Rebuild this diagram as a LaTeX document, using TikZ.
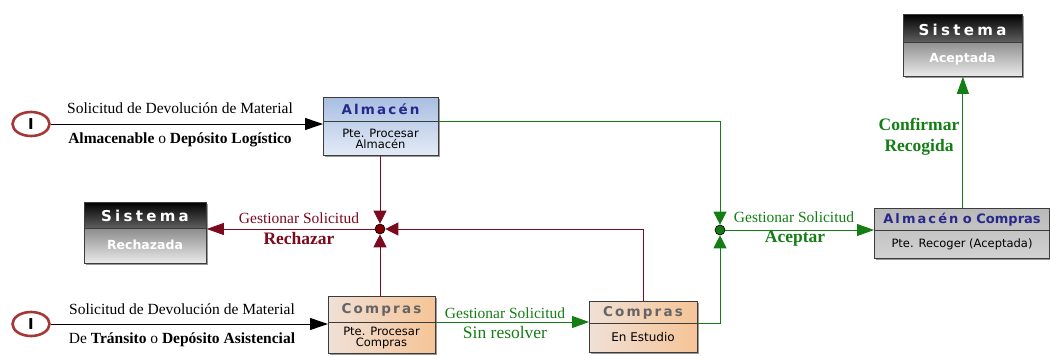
\documentclass[tikz,border=0pt]{standalone}
\usepackage{fontspec}
\setmainfont{Liberation Serif}
\newfontfamily\boxfont{DejaVu Sans}
\newfontfamily\hdrfont[LetterSpace=16]{DejaVu Sans}
\newfontfamily\sysfont[LetterSpace=22]{DejaVu Sans}
\usetikzlibrary{arrows.meta,shadows,shapes.geometric}
\definecolor{rline}{RGB}{122,10,30}
\definecolor{gline}{RGB}{20,125,20}
\definecolor{circ}{RGB}{165,55,55}
\definecolor{hblue}{RGB}{40,40,140}
\definecolor{hgray}{RGB}{100,100,100}
\definecolor{bord}{RGB}{60,60,60}
\tikzset{
  box/.style={draw=bord, line width=0.8pt, inner sep=0pt, anchor=north west,
    drop shadow={shadow xshift=2pt, shadow yshift=-2pt, fill=black!40, opacity=1}},
  bluebox/.style={box, top color={rgb,255:red,168;green,190;blue,225}, bottom color={rgb,255:red,228;green,235;blue,246}},
  orbox/.style={box, left color={rgb,255:red,240;green,224;blue,214}, right color={rgb,255:red,246;green,196;blue,150}},
  graybox/.style={box, top color={rgb,255:red,185;green,185;blue,185}, bottom color={rgb,255:red,210;green,210;blue,210}},
  sysbox/.style={box, top color={rgb,255:red,70;green,70;blue,70}, bottom color={rgb,255:red,235;green,235;blue,235}},
  hdr/.style={font=\hdrfont\bfseries\fontsize{13.5}{15}\selectfont, inner sep=0pt},
  syshdr/.style={font=\sysfont\bfseries\fontsize{15}{17}\selectfont, text=white, inner sep=0pt},
  sysbody/.style={font=\boxfont\bfseries\fontsize{12.5}{14}\selectfont, text=white, inner sep=0pt},
  body/.style={font=\boxfont\fontsize{11.5}{11.5}\selectfont, align=center, inner sep=0pt},
  lbl/.style={font=\fontsize{15.5}{17}\selectfont, inner sep=0pt},
  biglbl/.style={font=\fontsize{17.5}{19}\selectfont, inner sep=0pt},
  startc/.style={ellipse, draw=circ, line width=2.6pt, minimum width=37pt, minimum height=24pt, inner sep=0pt,
    font=\boxfont\bfseries\fontsize{15}{15}\selectfont},
  blk/.style={draw=black, line width=1pt, -{Triangle[length=18pt,width=12pt]}},
  rarr/.style={draw=rline, line width=0.9pt, -{Triangle[length=13pt,width=13pt]}},
  garr/.style={draw=gline, line width=0.9pt, -{Triangle[length=13pt,width=13pt]}},
}
\begin{document}
\begin{tikzpicture}[x=1pt,y=-1pt]
\useasboundingbox (0,0) rectangle (1050,356);

% start circles
\node[startc] (c1) at (31,124) {I};
\node[startc] (c2) at (31,324) {I};

% boxes
\node[bluebox, minimum width=115pt, minimum height=58pt] (alm) at (323,97) {};
\coordinate (alm-d) at (323,121);
\draw[draw=bord, line width=0.8pt] (alm-d) -- (alm-d -| alm.east);
\node[hdr, text=hblue] (alm-t) at (380.5,109.5) {Almacén};
\node[body] (alm-s) at (380.5,139) {Pte. Procesar\\Almacén};

\node[sysbox, minimum width=122pt, minimum height=61pt] (rech) at (84,202) {};
\coordinate (rech-d) at (84,228);
\shade[top color=black, bottom color={rgb,255:red,95;green,95;blue,95}] (rech.north west) rectangle (rech-d -| rech.east);
\draw[draw=bord, line width=0.8pt] (rech.north west) rectangle (rech.south east) (rech-d) -- (rech-d -| rech.east);
\node[syshdr] (rech-t) at (145,215.5) {Sistema};
\node[sysbody] (rech-s) at (145,245) {Rechazada};

\node[orbox, minimum width=107pt, minimum height=57pt] (comp) at (328,296) {};
\coordinate (comp-d) at (328,322);
\draw[draw=bord, line width=0.8pt] (comp-d) -- (comp-d -| comp.east);
\node[hdr, text=hgray] (comp-t) at (381.5,309.5) {Compras};
\node[body] (comp-s) at (381.5,338) {Pte. Procesar\\Compras};

\node[orbox, minimum width=108pt, minimum height=51pt] (est) at (589,301) {};
\coordinate (est-d) at (589,323);
\draw[draw=bord, line width=0.8pt] (est-d) -- (est-d -| est.east);
\node[hdr, text=hgray] (est-t) at (643,312.5) {Compras};
\node[body, font=\boxfont\fontsize{12}{12}\selectfont] (est-s) at (643,337.5) {En Estudio};

\node[graybox, minimum width=175pt, minimum height=50pt] (aoc) at (874,208) {};
\coordinate (aoc-d) at (874,230);
\draw[draw=bord, line width=0.8pt] (aoc-d) -- (aoc-d -| aoc.east);
\node[hdr, text=hblue, font=\boxfont\bfseries\fontsize{13}{15}\selectfont] (aoc-t) at (962,219.5) {{\hdrfont Almacén} o Compras};
\node[body] (aoc-s) at (962,244) {Pte. Recoger (Aceptada)};

\node[sysbox, minimum width=119pt, minimum height=62pt] (acep) at (903,14) {};
\coordinate (acep-d) at (903,42);
\shade[top color=black, bottom color={rgb,255:red,95;green,95;blue,95}] (acep.north west) rectangle (acep-d -| acep.east);
\draw[draw=bord, line width=0.8pt] (acep.north west) rectangle (acep.south east) (acep-d) -- (acep-d -| acep.east);
\node[syshdr] (acep-t) at (962.5,29.5) {Sistema};
\node[sysbody] (acep-s) at (962.5,59) {Aceptada};

% junctions
\node[circle, fill={rgb,255:red,128;green,0;blue,0}, draw=black, line width=0.6pt, minimum size=10pt, inner sep=0pt] (rdot) at (380,229) {};
\node[circle, fill={rgb,255:red,20;green,120;blue,20}, draw=black, line width=0.6pt, minimum size=10pt, inner sep=0pt] (gdot) at (720,230) {};

% black inputs
\draw[blk] (c1.east) -- (c1.east -| alm.west);
\draw[blk] (c2.east) -- (c2.east -| comp.west);
\node[lbl] (l1a) at (180,108) {Solicitud de Devolución de Material};
\node[lbl] (l1b) at (180,140) {\textbf{Almacenable} o \textbf{Depósito Logístico}};
\node[lbl] (l2a) at (182,309) {Solicitud de Devolución de Material};
\node[lbl] (l2b) at (182,340) {De \textbf{Tránsito} o \textbf{Depósito Asistencial}};

% red connectors
\draw[rarr] (alm.south -| rdot) -- (rdot.north);
\draw[rarr] (comp.north -| rdot) -- (rdot.south);
\draw[rarr] (est.north) |- (rdot.east);
\draw[draw=rline, line width=0.9pt, -{Triangle[length=17pt,width=12pt]}] (rdot.west) -- (rdot.west -| rech.east);
\node[lbl, text=rline] (lr1) at (299,218) {Gestionar Solicitud};
\node[biglbl, text=rline, font=\bfseries\fontsize{17.5}{19}\selectfont] (lr2) at (299,239) {Rechazar};

% green connectors
\draw[draw=gline, line width=0.9pt, -{Triangle[length=17pt,width=12pt]}] (comp-d -| comp.east) -- (comp-d -| est.west);
\node[lbl, text=gline] (lg1) at (505,313) {Gestionar Solicitud};
\node[biglbl, text=gline] (lg2) at (505,333) {Sin resolver};
\draw[garr] (est-d -| est.east) -| (gdot.south);
\draw[garr] (alm-d -| alm.east) -| (gdot.north);
\draw[draw=gline, line width=0.9pt, -{Triangle[length=17pt,width=12pt]}] (gdot.east) -- (gdot.east -| aoc.west);
\node[lbl, text=gline] (lg3) at (794,217) {Gestionar Solicitud};
\node[biglbl, text=gline, font=\bfseries\fontsize{17.5}{19}\selectfont] (lg4) at (795,239) {Aceptar};
\draw[draw=gline, line width=0.9pt, -{Triangle[length=17pt,width=12pt]}] (aoc.north -| acep.south) -- (acep.south);
\node[biglbl, text=gline, font=\bfseries\fontsize{17.5}{19}\selectfont, align=center] (lg5) at (919,137) {Confirmar\\[2pt]Recogida};
\end{tikzpicture}
\end{document}
